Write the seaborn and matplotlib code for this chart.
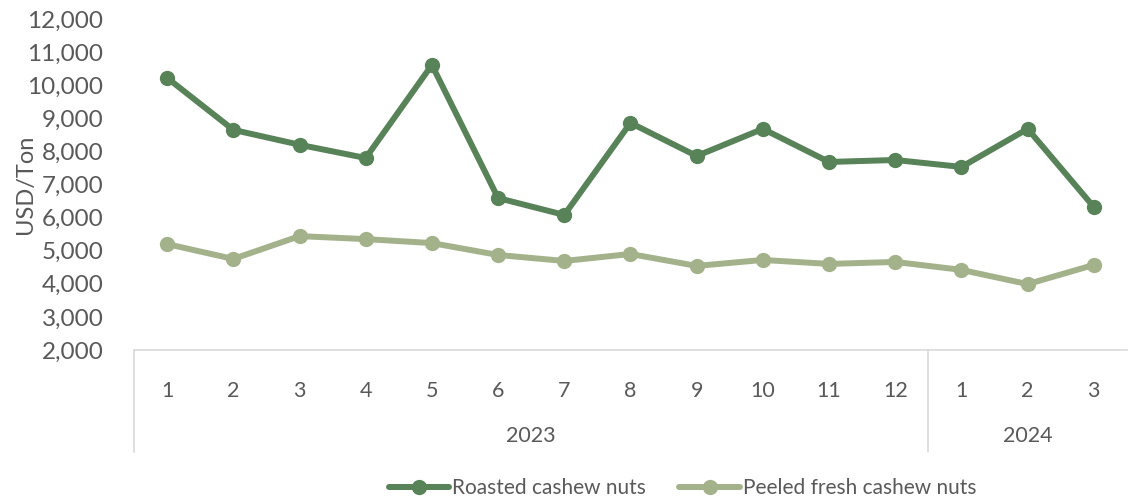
import numpy as np
import pandas as pd
import matplotlib.pyplot as plt
import matplotlib.transforms as mtransforms
import seaborn as sns

months = ['1', '2', '3', '4', '5', '6', '7', '8', '9', '10', '11', '12', '1', '2', '3']
years = ['2023'] * 12 + ['2024'] * 3
roasted = [10220, 8650, 8200, 7800, 10610, 6590, 6080, 8860, 7860, 8680, 7680, 7740, 7530, 8680, 6320]
peeled = [5200, 4750, 5440, 5350, 5230, 4870, 4690, 4900, 4540, 4720, 4600, 4660, 4420, 3990, 4570]
series_names = ['Roasted cashew nuts', 'Peeled fresh cashew nuts']
colors = ['#588258', '#A3B28B']

df = pd.DataFrame({
    'pos': list(range(len(months))) * 2,
    'value': roasted + peeled,
    'series': [series_names[0]] * len(months) + [series_names[1]] * len(months),
})

sns.set_style('white')
plt.rcParams['font.family'] = ['Lato', 'DejaVu Sans']
text_color = '#595959'
grid_color = '#D9D9D9'

fig = plt.figure(figsize=(11.3, 4.99), dpi=100)
ax = fig.add_axes([0.1186, 0.2986, 0.8787, 0.6634])

sns.lineplot(data=df, x='pos', y='value', hue='series', palette=colors,
             marker='o', markersize=11, markeredgewidth=0, linewidth=4.3,
             ax=ax, legend=True)

ax.set_xlim(-0.5, len(months) - 0.5)
ax.set_ylim(2000, 12000)
ax.set_yticks(np.arange(2000, 12001, 1000))
ax.set_yticklabels([f'{v:,}' for v in range(2000, 12001, 1000)])
ax.tick_params(axis='y', labelsize=17.5, labelcolor=text_color, length=0, pad=22)
ax.set_ylabel('USD/Ton', fontsize=17, color=text_color, labelpad=-6)
ax.set_xlabel('')

ax.set_xticks(range(len(months)))
ax.set_xticklabels(months)
ax.tick_params(axis='x', labelsize=15.5, labelcolor=text_color, length=0, pad=22)

for side in ['top', 'right', 'left']:
    ax.spines[side].set_visible(False)
ax.spines['bottom'].set_color(grid_color)
ax.spines['bottom'].set_linewidth(1.2)

# multi-level category axis: group separators and year labels
trans = mtransforms.blended_transform_factory(ax.transData, ax.transAxes)
bounds = [-0.5]
year_labels = []
year_centers = []
start = 0
for i in range(1, len(years) + 1):
    if i == len(years) or years[i] != years[start]:
        bounds.append(i - 0.5)
        year_labels.append(years[start])
        year_centers.append((start + i - 1) / 2)
        start = i
# the outer right separator sits just off the canvas in the original
for b in bounds[:-1]:
    ax.plot([b, b], [0, -0.308], transform=trans, color=grid_color,
            linewidth=1.2, clip_on=False)
for yl, xc in zip(year_labels, year_centers):
    ax.text(xc, -0.26, yl, transform=trans, ha='center', va='center',
            fontsize=15.5, color=text_color)

handles, labels = ax.get_legend_handles_labels()
ax.get_legend().remove()
fig.legend(handles, labels, loc='center', bbox_to_anchor=(0.604, 0.022),
           ncol=2, frameon=False, fontsize=15, labelcolor=text_color,
           handlelength=2.9, handletextpad=0.15, columnspacing=1.6)

fig.savefig('out.png', dpi=100)
